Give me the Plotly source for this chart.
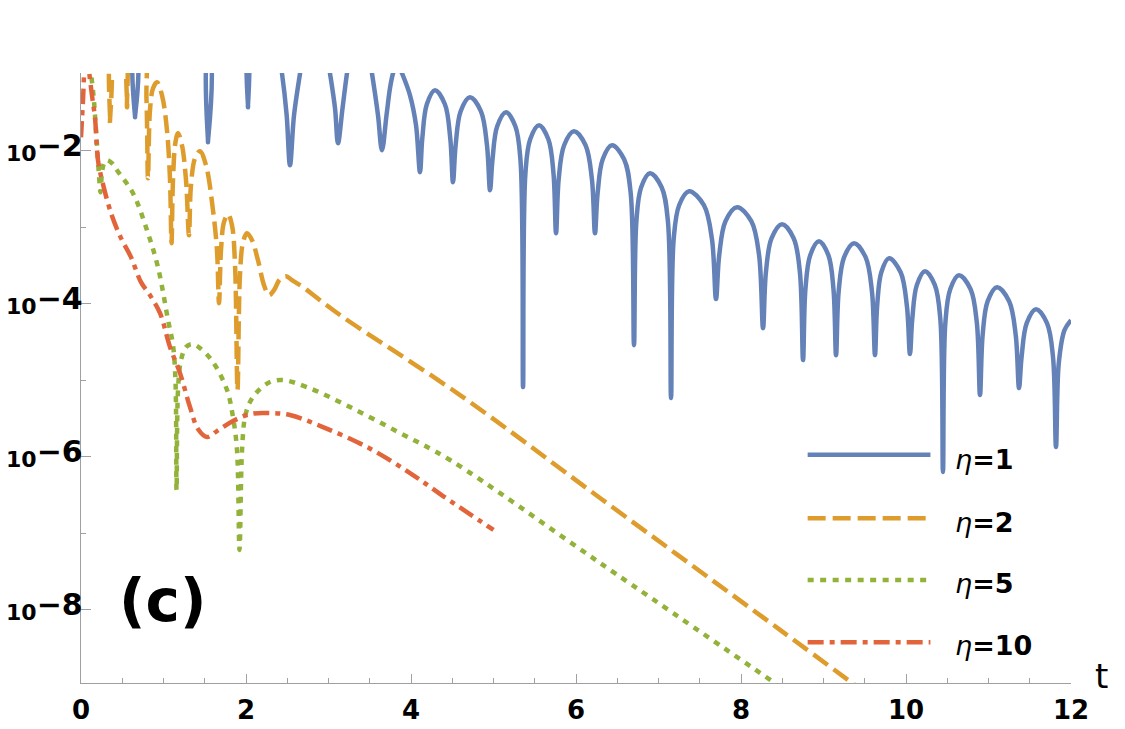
import numpy as np
import plotly.graph_objects as go

# ---------------- data (t, log10 of the plotted quantity) ----------------
eta1_t = [0, 0.630, 0.655, 0.679, 1.079, 1.515, 1.539, 1.564, 1.782, 2.0, 2.024, 2.048, 2.230,
          2.4, 2.436, 2.493, 2.533, 2.582, 2.655, 2.691, 2.836, 2.982, 3.018, 3.079, 3.115, 3.170,
          3.224, 3.261, 3.382, 3.491, 3.527, 3.6, 3.648, 3.703, 3.745, 3.782, 3.830, 3.891, 3.988, 4.061,
          4.109, 4.137, 4.192, 4.291, 4.411, 4.476,
          4.509, 4.541, 4.602, 4.715, 4.848, 4.921,
          4.958, 4.987, 5.045, 5.152, 5.265, 5.327,
          5.358, 5.387, 5.445, 5.552, 5.665, 5.727,
          5.758, 5.790, 5.856, 5.976, 6.116, 6.193,
          6.230, 6.262, 6.324, 6.436, 6.583, 6.663,
          6.703, 6.732, 6.790, 6.897, 7.038, 7.114,
          7.152, 7.184, 7.250, 7.370, 7.550, 7.648,
          7.697, 7.736, 7.812, 7.952, 8.125, 8.219,
          8.267, 8.302, 8.371, 8.497, 8.638, 8.714,
          8.752, 8.781, 8.839, 8.945, 9.059, 9.121,
          9.152, 9.184, 9.250, 9.370, 9.510, 9.587,
          9.624, 9.650, 9.701, 9.794, 9.935, 10.011,
          10.048, 10.076, 10.131, 10.230, 10.350, 10.416,
          10.448, 10.477, 10.536, 10.642, 10.783, 10.859,
          10.897, 10.929, 10.990, 11.103, 11.250, 11.330,
          11.370, 11.401, 11.463, 11.576, 11.709, 11.782,
          11.818, 11.852, 11.921, 12.0]
eta1_log10 = [-0.2, -0.5, -1.559, -0.5, -0.3, -0.5, -1.886, -0.5, -0.3, -0.5, -1.429, -0.5, -0.4,
              -0.749, -0.984, -1.533, -2.187, -1.533, -0.984, -0.749, -0.488, -0.749, -0.984, -1.442, -1.899, -1.442,
              -0.984, -0.749, -0.488, -0.749, -0.984, -1.533, -1.991, -1.533, -1.180, -0.984, -0.840, -0.984, -1.272, -1.664,
              -2.278, -1.834, -1.389, -1.206, -1.389, -1.834,
              -2.409, -1.925, -1.481, -1.298, -1.481, -1.925,
              -2.514, -2.122, -1.677, -1.494, -1.677, -2.122,
              -5.089, -2.291, -1.847, -1.664, -1.847, -2.291,
              -3.076, -2.370, -1.925, -1.742, -1.925, -2.370,
              -3.076, -2.553, -2.108, -1.925, -2.108, -2.553,
              -4.540, -2.919, -2.474, -2.291, -2.474, -2.919,
              -5.233, -3.154, -2.710, -2.527, -2.710, -3.154,
              -3.938, -3.363, -2.919, -2.736, -2.919, -3.363,
              -4.318, -3.586, -3.141, -2.958, -3.141, -3.586,
              -4.736, -3.808, -3.363, -3.180, -3.363, -3.808,
              -4.671, -3.834, -3.389, -3.206, -3.389, -3.834,
              -4.671, -4.030, -3.586, -3.403, -3.586, -4.030,
              -4.657, -4.200, -3.755, -3.572, -3.755, -4.200,
              -6.200, -4.252, -3.808, -3.625, -3.808, -4.252,
              -5.193, -4.409, -3.965, -3.782, -3.965, -4.409,
              -5.102, -4.697, -4.252, -4.069, -4.252, -4.697,
              -5.873, -4.775, -4.344, -4.213]

eta2_t = [0, 0.315, 0.352, 0.388, 0.521, 0.558, 0.594, 0.752, 0.794, 0.812, 0.836, 0.873, 0.921,
          0.982, 1.042, 1.079, 1.097, 1.115, 1.145, 1.176, 1.224, 1.273, 1.309, 1.333, 1.382, 1.442,
          1.515, 1.6, 1.648, 1.673, 1.697, 1.733, 1.782, 1.830, 1.867, 1.897, 1.927, 1.964, 2.012,
          2.073, 2.145, 2.218, 2.279, 2.339, 2.412, 2.485, 2.558, 2.691, 2.897, 3.176, 4.594, 6.291,
          8.473, 9.394]
eta2_log10 = [-0.3, -0.5, -1.638, -0.5, -0.5, -1.429, -0.5, -0.5, -1.337, -2.357, -1.468, -1.180, -1.102,
              -1.272, -1.729, -2.383, -3.206, -2.383, -1.886, -1.769, -1.925, -2.383, -3.102, -2.448, -2.095, -2.004,
              -2.187, -2.775, -3.298, -3.991, -3.298, -2.932, -2.827, -2.971, -3.494, -5.128, -3.625, -3.193, -3.076,
              -3.167, -3.429, -3.755, -3.886, -3.821, -3.677, -3.638, -3.690, -3.782, -3.952, -4.174, -5.193, -6.540,
              -8.265, -8.997]

eta5_t = [0, 0.085, 0.145, 0.182, 0.218, 0.236, 0.255, 0.279, 0.315, 0.376, 0.436, 0.630, 0.8, 0.933,
          1.055, 1.115, 1.145, 1.158, 1.176, 1.212, 1.273, 1.345, 1.442, 1.6, 1.770, 1.842, 1.891, 1.921,
          1.952, 1.988, 2.048, 2.133, 2.291, 2.448, 2.739, 3.261, 3.867, 4.473, 6.291, 8.424]
eta5_log10 = [-0.4, -0.749, -1.206, -1.729, -2.318, -2.540, -2.278, -2.161, -2.122, -2.161, -2.252, -2.553,
              -3.037, -3.520, -4.213, -4.540, -4.997, -6.435, -5.128, -4.736, -4.566, -4.527, -4.579, -4.762,
              -5.128, -5.481, -5.912, -7.220, -5.912, -5.481, -5.285, -5.154, -5.023, -4.997, -5.089, -5.350,
              -5.690, -6.043, -7.389, -8.971]

eta10_t = [0, 0.024, 0.048, 0.073, 0.097, 0.133, 0.170, 0.206, 0.255, 0.364, 0.485, 0.606, 0.727, 0.836,
           0.958, 1.079, 1.2, 1.321, 1.418, 1.527, 1.648, 1.842, 2.048, 2.255, 2.533, 2.933, 3.467, 3.988,
           4.388, 5.0]
eta10_log10 = [-1.821, -1.337, -0.814, -0.618, -0.945, -1.272, -1.572, -2.122, -2.383, -2.814, -3.141,
               -3.389, -3.716, -3.886, -4.122, -4.566, -4.906, -5.350, -5.638, -5.742, -5.664, -5.533,
               -5.442, -5.429, -5.455, -5.612, -5.873, -6.213, -6.514, -6.958]

series_labels = ["1", "2", "5", "10"]
x_tickvals = [0, 2, 4, 6, 8, 10, 12]
y_tick_exponents = [-2, -4, -6, -8]
y_tickexp_text = ["−2", "−4", "−6", "−8"]
y_minor_tickvals = [1e-3, 1e-5, 1e-7]

# ---------------- styles ----------------
colors = ["#6482B7", "#DE9C2C", "#93B23A", "#E2643A"]
dashes = ["solid", "18px,7px", "6px,6.5px", "16px,6px,5px,6px"]
LW = 4.5
FONT = "DejaVu Sans"
AXC = "#a0a0a0"

fig = go.Figure()
for t, lg, c, d in zip([eta1_t, eta2_t, eta5_t, eta10_t],
                       [eta1_log10, eta2_log10, eta5_log10, eta10_log10], colors, dashes):
    fig.add_trace(go.Scatter(x=t, y=10.0 ** np.array(lg), mode="lines",
                             line=dict(color=c, width=LW, dash=d, shape="spline", smoothing=1.0),
                             showlegend=False, hoverinfo="skip"))

# custom legend (long swatches like the original)
leg_y_line = [0.374, 0.270, 0.169, 0.067]
leg_y_text = [0.366, 0.263, 0.163, 0.061]
for lab, c, d, yl, yt in zip(series_labels, colors, dashes, leg_y_line, leg_y_text):
    fig.add_shape(type="line", xref="paper", yref="paper", x0=0.734, x1=0.858, y0=yl, y1=yl,
                  line=dict(color=c, width=LW, dash=d))
    fig.add_annotation(xref="paper", yref="paper", x=0.881, y=yt, xanchor="left", yanchor="middle",
                       text="<i>η</i><b>=" + lab + "</b>", showarrow=False,
                       font=dict(family=FONT, size=27, color="black"))

# y tick labels 10^-n, with a large exponent as in the original (placed at the tick values)
for ex, et in zip(y_tick_exponents, y_tickexp_text):
    fig.add_annotation(xref="paper", yref="y", x=-0.001, y=ex, xanchor="right", yanchor="middle",
                       xshift=5, yshift=4, showarrow=False,
                       text=("<span style='font-size:22px'>10</span>"
                             "<span style='font-size:30px;baseline-shift:5px'>%s</span>" % et),
                       font=dict(family=FONT, size=22, color="black", weight="bold"))

fig.add_annotation(xref="paper", yref="paper", x=0.082, y=0.134, xanchor="center", yanchor="middle",
                   text="<b>(c)</b>", showarrow=False, font=dict(family=FONT, size=58, color="black"))
fig.add_annotation(xref="paper", yref="paper", x=1.031, y=0.012, xanchor="center", yanchor="middle",
                   text="t", showarrow=False, font=dict(family=FONT, size=34, color="black"))

# the page body has an 8px default margin: size/margins compensate so the plot sits where the original does
fig.update_layout(
    width=1117, height=721,
    margin=dict(l=73, r=54, t=65, b=46),
    paper_bgcolor="white", plot_bgcolor="white",
    template="none",
    xaxis=dict(range=[0, 12], tickmode="array", tickvals=x_tickvals,
               ticks="inside", ticklen=9, tickwidth=1, tickcolor=AXC,
               showline=True, linecolor=AXC, linewidth=1, showgrid=False, zeroline=False,
               automargin=False, ticklabelstandoff=4,
               tickfont=dict(family=FONT, size=26, color="black", weight="bold"),
               minor=dict(dtick=0.5, tick0=0, ticks="inside", ticklen=5, tickwidth=1,
                          tickcolor=AXC, showgrid=False)),
    yaxis=dict(type="log", range=[-8.96, -0.98], tickmode="array",
               tickvals=[10.0 ** e for e in y_tick_exponents], showticklabels=False,
               ticks="inside", ticklen=10, tickwidth=1, tickcolor=AXC,
               showline=True, linecolor=AXC, linewidth=1, showgrid=False, zeroline=False,
               automargin=False,
               minor=dict(tickvals=y_minor_tickvals, ticks="inside", ticklen=5, tickwidth=1,
                          tickcolor=AXC, showgrid=False)),
)

fig.write_html("out.html")
